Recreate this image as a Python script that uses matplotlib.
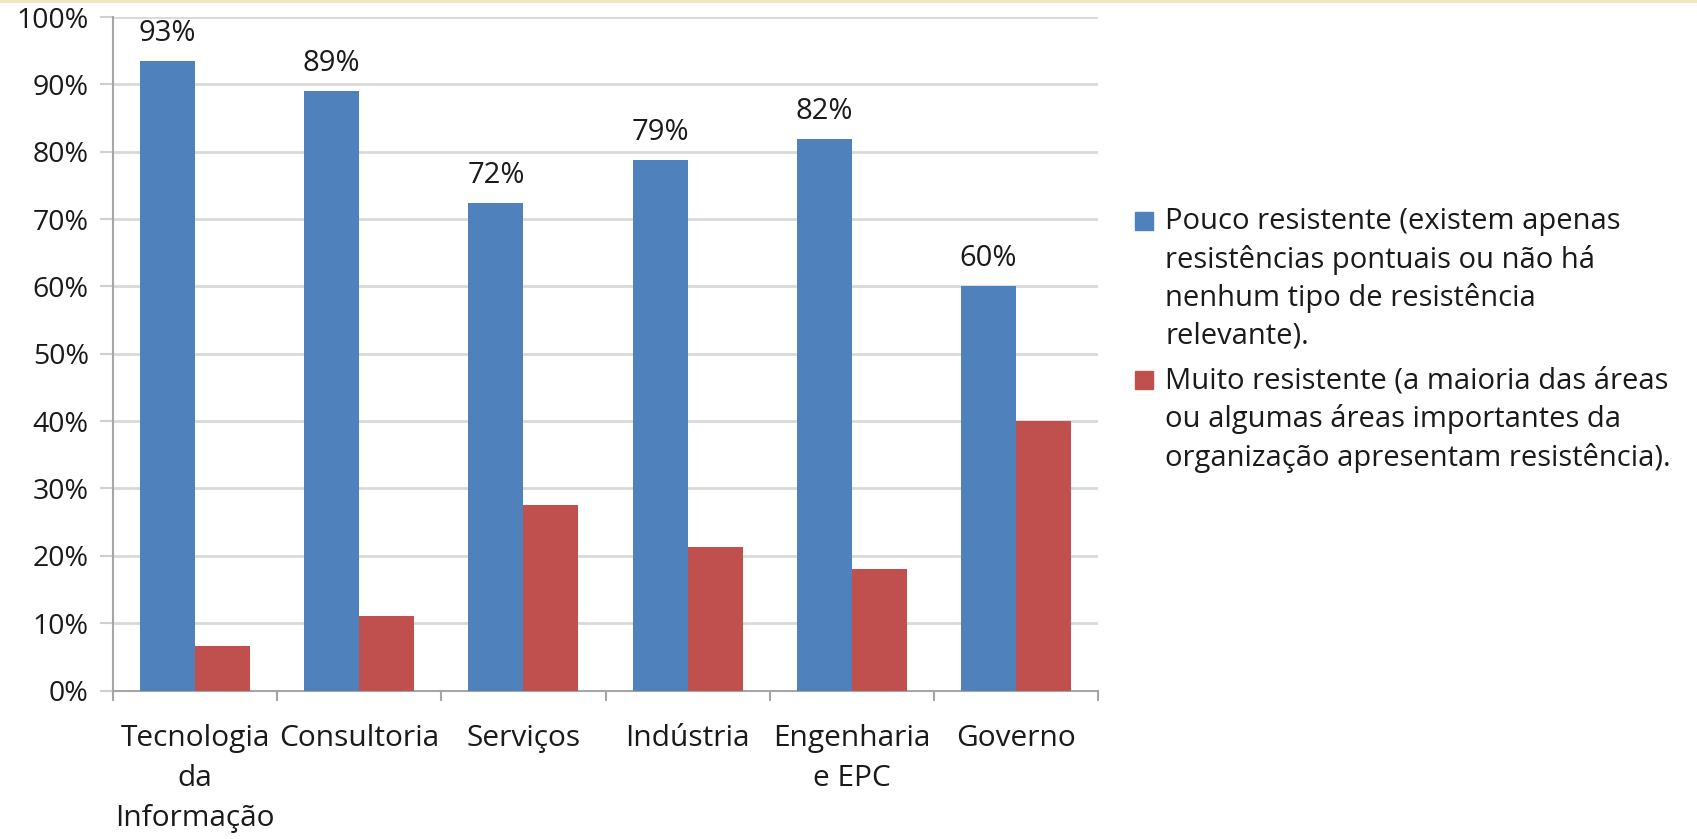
import numpy as np
import matplotlib.pyplot as plt
from matplotlib.lines import Line2D
from matplotlib.patches import Rectangle

categorias = ['Tecnologia\nda\nInformação', 'Consultoria', 'Serviços',
              'Indústria', 'Engenharia\ne EPC', 'Governo']
pouco = [93.4, 89.0, 72.4, 78.7, 81.9, 60.0]
muito = [6.6, 11.0, 27.6, 21.3, 18.1, 40.0]
rotulos = ['93%', '89%', '72%', '79%', '82%', '60%']
legenda = ['Pouco resistente (existem apenas\nresistências pontuais ou não há\n'
           'nenhum tipo de resistência\nrelevante).',
           'Muito resistente (a maioria das áreas\nou algumas áreas importantes da\n'
           'organização apresentam resistência).']
cores = ['#4f81bd', '#c0504d']

plt.rcParams['font.family'] = ['Open Sans', 'DejaVu Sans']
W, H = 1697, 839

fig = plt.figure(figsize=(W / 100, H / 100), dpi=100)
ax = fig.add_axes([113 / W, 1 - 690.5 / H, 985 / W, 673.5 / H])

x = np.arange(len(categorias))
w = 0.335
b1 = ax.bar(x - w / 2, pouco, w, color=cores[0], zorder=3)
b2 = ax.bar(x + w / 2, muito, w, color=cores[1], zorder=3)

for rect, txt in zip(b1, rotulos):
    ax.annotate(txt, (rect.get_x() + rect.get_width() / 2, rect.get_height()),
                xytext=(0, 20), textcoords='offset points', ha='center', va='center',
                fontsize=21, color='#1a1a1a')

ax.set_xlim(-0.5, len(categorias) - 0.5)
ax.set_ylim(0, 100)
ax.set_yticks(np.arange(0, 101, 10))
ax.set_yticklabels([f'{v}%' for v in range(0, 101, 10)])
ax.yaxis.grid(True, color='#d9d9d9', linewidth=2, zorder=0)

ax.set_xticks(np.arange(-0.5, len(categorias), 1))
ax.set_xticklabels([])
ax.set_xticks(x, minor=True)
ax.set_xticklabels(categorias, minor=True, fontsize=21.5, linespacing=1.5,
                   color='#1a1a1a')
ax.tick_params(axis='x', which='minor', length=0, pad=24)
ax.tick_params(axis='x', which='major', length=7, color='#a6a6a6', width=1.5)
ax.tick_params(axis='y', length=9.5, color='#d0d0d0', width=1.5, labelsize=20.5,
               labelcolor='#1a1a1a', pad=8)

for s in ['top', 'right']:
    ax.spines[s].set_visible(False)
for s in ['left', 'bottom']:
    ax.spines[s].set_color('#a6a6a6')
    ax.spines[s].set_linewidth(1.5)

# legenda manual: quadrado alinhado com a primeira linha de cada item
centros = [(223 + 335) / 2, (382 + 457) / 2]
quadrados = [221, 380]
for cor, txt, yc, yq in zip(cores, legenda, centros, quadrados):
    fig.add_artist(Rectangle((1135 / W, 1 - (yq + 9) / H), 18 / W, 18 / H,
                             transform=fig.transFigure, color=cor))
    fig.text(1165 / W, 1 - yc / H, txt, fontsize=21, va='center', ha='left',
             linespacing=1.37, color='#1a1a1a')

fig.add_artist(Line2D([0, 1], [0.999, 0.999], transform=fig.transFigure,
                      color='#efe3c0', linewidth=2))

fig.savefig('out.png', dpi=100)
